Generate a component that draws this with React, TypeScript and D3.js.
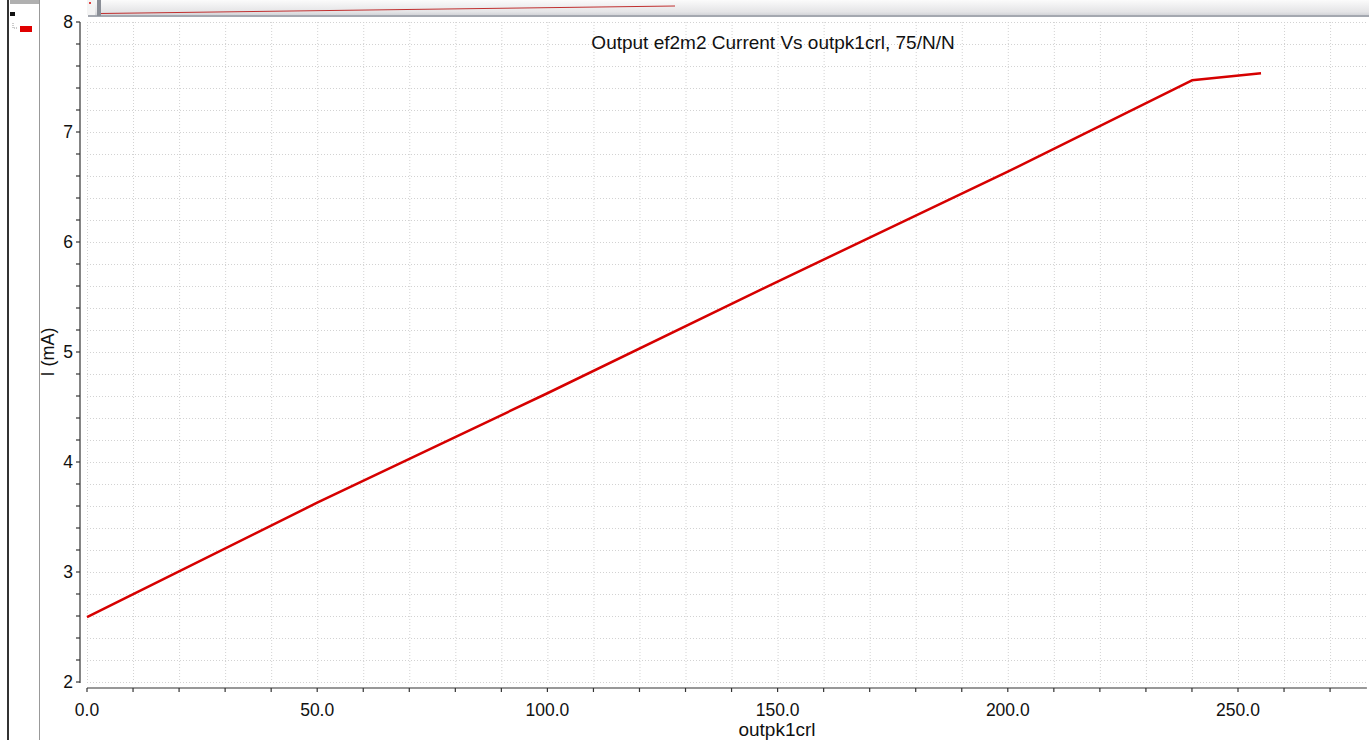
import { useMemo } from "react";
import * as d3 from "d3";

// sweep values
const sweepX = [0, 50, 100, 150, 200, 240, 255];
const currentMA = [2.59, 3.63, 4.625, 5.64, 6.64, 7.47, 7.535];

const yTickLabels = ["2", "3", "4", "5", "6", "7", "8"];
const xTickLabels = ["0.0", "50.0", "100.0", "150.0", "200.0", "250.0"];

const W = 1369;
const H = 740;
const FONT = "'Liberation Sans', Arial, Helvetica, sans-serif";

const App: React.FC = () => {
  const x = useMemo(() => d3.scaleLinear().domain([0, 278]).range([87, 87 + 278 * 4.604]), []);
  const y = useMemo(() => d3.scaleLinear().domain([2, 8]).range([682, 22]), []);

  const points = sweepX.map((v, i) => [v, currentMA[i]] as [number, number]);
  const line = d3
    .line<[number, number]>()
    .x((d) => x(d[0]))
    .y((d) => y(d[1]));

  // grid every 10 on x, every 0.2 on y
  const xMinor = d3.range(0, 279, 10);
  const yMinor = d3.range(0, 31).map((i) => 2 + i * 0.2);

  const [x0, x1] = x.range();
  const [yb, yt] = y.range();
  const axisY = 688;
  const axisX = 80;

  return (
    <svg
      width={W}
      height={H}
      style={{ position: "absolute", left: 0, top: 0, display: "block", background: "#fff" }}
      fontFamily={FONT}
    >
      <defs>
        <linearGradient id="topbar" x1="0" y1="0" x2="0" y2="1">
          <stop offset="0" stopColor="#fbfbfb" />
          <stop offset="0.7" stopColor="#e4e4e6" />
          <stop offset="1" stopColor="#c8cad0" />
        </linearGradient>
      </defs>

      {/* left panel */}
      <rect x={9} y={0} width={31} height={H} fill="#fff" />
      <line x1={8} y1={0} x2={8} y2={H} stroke="#333" strokeWidth={2} />
      <line x1={39.5} y1={0} x2={39.5} y2={H} stroke="#999" strokeWidth={1} />
      <rect x={10} y={0} width={29} height={4} fill="#b0b0b0" />
      <rect x={10} y={12} width={5} height={4} fill="#111" />
      <path d="M13,23 V28 H17" fill="none" stroke="#999" strokeDasharray="1,1" />
      <rect x={20} y={26} width={12} height={6} fill="#e00000" />

      {/* top overview strip */}
      <rect x={88} y={0} width={W - 88} height={17} fill="url(#topbar)" />
      <rect x={88} y={15} width={W - 88} height={2} fill="#a4a8b0" />
      <rect x={87} y={0} width={8} height={15} fill="#f4f4f4" />
      <rect x={89} y={2} width={2} height={2} fill="#e04040" />
      <rect x={97} y={0} width={4} height={16} fill="#8a8e96" />
      <line x1={101} y1={13.5} x2={675} y2={6} stroke="#c03030" strokeWidth={1} />

      {/* grid */}
      <g stroke="#d2d2d2" strokeWidth={1} strokeDasharray="1,2">
        {xMinor.map((v) => (
          <line key={"gx" + v} x1={x(v) + 0.5} x2={x(v) + 0.5} y1={yt} y2={yb} />
        ))}
        {yMinor.map((v, i) => (
          <line key={"gy" + i} x1={x0} x2={x1} y1={y(v) + 0.5} y2={y(v) + 0.5} />
        ))}
      </g>

      {/* y axis */}
      <line x1={axisX} x2={axisX} y1={yt} y2={yb + 1} stroke="#333" strokeWidth={1.2} />
      {yMinor.map((v, i) => (
        <line key={"ty" + i} x1={axisX - 4} x2={axisX} y1={y(v)} y2={y(v)} stroke="#333" strokeWidth={1.2} />
      ))}
      {yTickLabels.map((t) => (
        <text key={"ly" + t} x={73} y={y(+t)} dy="0.36em" textAnchor="end" fontSize={17.5} fill="#111">
          {t}
        </text>
      ))}
      <text
        transform={`translate(54,${y(5)}) rotate(-90)`}
        textAnchor="middle"
        fontSize={18}
        fill="#111"
      >
        I (mA)
      </text>

      {/* x axis */}
      <line x1={x0} x2={x1} y1={axisY} y2={axisY} stroke="#333" strokeWidth={1.2} />
      {xMinor.map((v) => (
        <line key={"tx" + v} x1={x(v)} x2={x(v)} y1={axisY} y2={axisY + 4} stroke="#333" strokeWidth={1.2} />
      ))}
      {xTickLabels.map((t) => (
        <text key={"lx" + t} x={x(+t)} y={716} textAnchor="middle" fontSize={17.5} fill="#111">
          {t}
        </text>
      ))}
      <text x={777} y={736} textAnchor="middle" fontSize={19} fill="#111">
        outpk1crl
      </text>

      {/* title */}
      <text x={773} y={49} textAnchor="middle" fontSize={19} fill="#111">
        Output ef2m2 Current Vs outpk1crl, 75/N/N
      </text>

      {/* series */}
      <path d={line(points) ?? ""} fill="none" stroke="#d60000" strokeWidth={2.5} strokeLinejoin="round" />
    </svg>
  );
};

export default App;
